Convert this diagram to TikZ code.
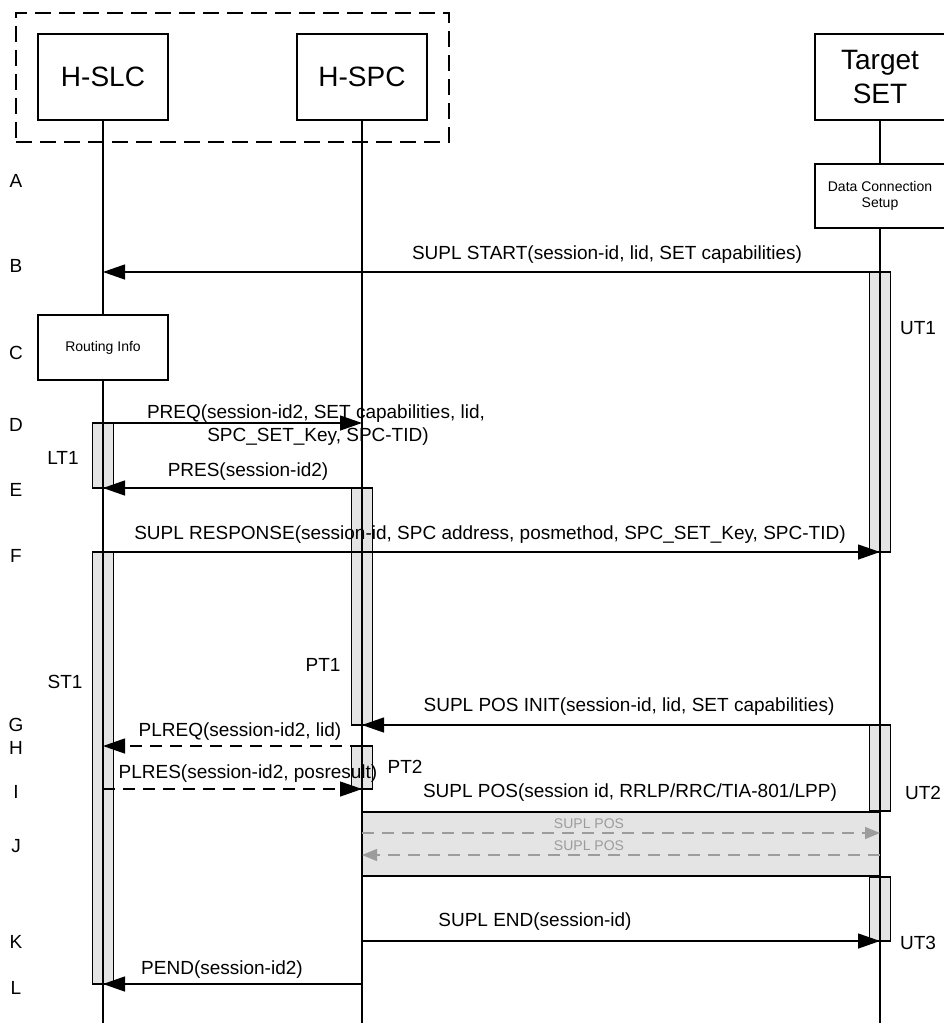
\documentclass[tikz,border=0pt]{standalone}
\usepackage{fontspec}
\setmainfont{Liberation Sans}
\usetikzlibrary{arrows.meta}
\definecolor{actgray}{HTML}{E4E4E4}
\definecolor{posgray}{HTML}{9C9C9C}
\begin{document}
\begin{tikzpicture}[x=1pt,y=-1pt,
  every node/.style={inner sep=0pt, outer sep=0pt},
  big/.style={font=\fontsize{28}{34}\selectfont, align=center},
  msg/.style={font=\fontsize{19}{23}\selectfont},
  small/.style={font=\fontsize{14}{16}\selectfont, align=center},
  graytxt/.style={font=\fontsize{14}{16}\selectfont, text=posgray},
  ent/.style={draw, line width=1.3pt, minimum width=130pt},
  life/.style={line width=1.3pt},
  act/.style={draw, line width=1.3pt, fill=actgray, minimum width=21pt, anchor=north},
  arr/.style={line width=1.3pt, -{Triangle[length=22pt,width=15pt]}},
  darr/.style={arr, dash pattern=on 12pt off 8pt},
  garr/.style={line width=1.3pt, draw=posgray, dash pattern=on 12pt off 8pt, -{Triangle[length=15pt,width=12pt,fill=posgray]}},
]
\useasboundingbox (0,0) rectangle (943,1023);

% group box
\node[draw, line width=1.3pt, dash pattern=on 16pt off 8pt, minimum width=433pt, minimum height=129pt] (grp) at (232.5,77.5) {};

% entities
\node[ent, big, minimum height=86pt] (slc) at (103,77) {H-SLC};
\node[ent, big, minimum height=86pt] (spc) at (362,77) {H-SPC};
\node[ent, big, minimum height=86pt] (set) at (880,77) {Target\\SET};
\node[ent, small, minimum height=64pt] (dcs) at (880,196) {Data Connection\\Setup};
\node[ent, small, minimum height=65pt, fill=white] (rti) at (103,347.5) {Routing Info};

% gray band
\node[draw, line width=1.3pt, fill=actgray, minimum width=518pt, minimum height=64pt, anchor=north west] (band) at (362,812) {};

% activation boxes
\node[act, minimum height=65pt]  (lt1) at (103,423) {};
\node[act, minimum height=432pt] (st1) at (103,552) {};
\node[act, minimum height=237pt] (pt1) at (362,488) {};
\node[act, minimum height=43pt]  (pt2) at (362,746) {};
\node[act, minimum height=280pt] (ut1) at (880,272) {};
\node[act, minimum height=86pt]  (ut2) at (880,725) {};
\node[act, minimum height=64pt]  (ut3) at (880,877) {};

% lifelines
\coordinate (slcEnd) at (103,1023);
\coordinate (spcEnd) at (362,1023);
\coordinate (setEnd) at (880,1023);
\draw[life] (slc.south) -- (rti.north);
\draw[life] (rti.south) -- (slcEnd);
\draw[life] (spc.south) -- (spcEnd);
\draw[life] (set.south) -- (dcs.north);
\draw[life] (dcs.south) -- (setEnd);

% message end points
\coordinate (bS) at (880,272); \coordinate (bE) at (103,272);
\coordinate (dS) at (103,423); \coordinate (dE) at (362,423);
\coordinate (eS) at (362,488); \coordinate (eE) at (103,488);
\coordinate (fS) at (103,552); \coordinate (fE) at (880,552);
\coordinate (gS) at (880,725); \coordinate (gE) at (362,725);
\coordinate (hS) at (362,746); \coordinate (hE) at (103,746);
\coordinate (iS) at (103,789); \coordinate (iE) at (362,789);
\coordinate (j1S) at (362,833); \coordinate (j1E) at (880,833);
\coordinate (j2S) at (880,855); \coordinate (j2E) at (362,855);
\coordinate (kS) at (362,941); \coordinate (kE) at (880,941);
\coordinate (lS) at (362,984); \coordinate (lE) at (103,984);

\draw[arr] (bS) -- (bE);
\draw[arr] (dS) -- (dE);
\draw[arr] (eS) -- (eE);
\draw[arr] (fS) -- (fE);
\draw[arr] (gS) -- (gE);
\draw[darr] (hS) -- (hE);
\draw[darr] (iS) -- (iE);
\draw[garr] (j1S) -- (j1E);
\draw[garr] (j2S) -- (j2E);
\draw[arr] (kS) -- (kE);
\draw[arr] (lS) -- (lE);

% message labels
\node[msg] (tB) at (607,255) {SUPL START(session-id, lid, SET capabilities)};
\node[msg, anchor=west] (tD1) at (147,414) {PREQ(session-id2, SET capabilities, lid,};
\node[msg] (tD2) at (318,437) {SPC\_SET\_Key, SPC-TID)};
\node[msg] (tE) at (248,472) {PRES(session-id2)};
\node[msg] (tF) at (490,535) {SUPL RESPONSE(session-id, SPC address, posmethod, SPC\_SET\_Key, SPC-TID)};
\node[msg] (tG) at (629,707) {SUPL POS INIT(session-id, lid, SET capabilities)};
\node[msg] (tH) at (240,732) {PLREQ(session-id2, lid)};
\node[msg] (tI) at (248,774) {PLRES(session-id2, posresult)};
\node[msg] (tPOS) at (630,793) {SUPL POS(session id, RRLP/RRC/TIA-801/LPP)};
\node[graytxt] (tJ1) at (589,824) {SUPL POS};
\node[graytxt] (tJ2) at (589,846) {SUPL POS};
\node[msg] (tK) at (535,922) {SUPL END(session-id)};
\node[msg] (tL) at (222,970) {PEND(session-id2)};

% timer labels
\node[msg] (nLT1) at (63,458) {LT1};
\node[msg] (nST1) at (65,682) {ST1};
\node[msg] (nPT1) at (323,665) {PT1};
\node[msg] (nPT2) at (405,767) {PT2};
\node[msg] (nUT1) at (918,328) {UT1};
\node[msg] (nUT2) at (923,793) {UT2};
\node[msg] (nUT3) at (918,943) {UT3};

% step letters
\node[msg] (lA) at (16,181) {A};
\node[msg] (lB) at (16,266) {B};
\node[msg] (lC) at (16,353) {C};
\node[msg] (lD) at (16,425) {D};
\node[msg] (lE) at (16,490) {E};
\node[msg] (lF) at (16,556) {F};
\node[msg] (lG) at (16,725) {G};
\node[msg] (lH) at (16,748) {H};
\node[msg] (lI) at (16,792) {I};
\node[msg] (lJ) at (16,846) {J};
\node[msg] (lK) at (16,942) {K};
\node[msg] (lL) at (16,988) {L};
\end{tikzpicture}
\end{document}
